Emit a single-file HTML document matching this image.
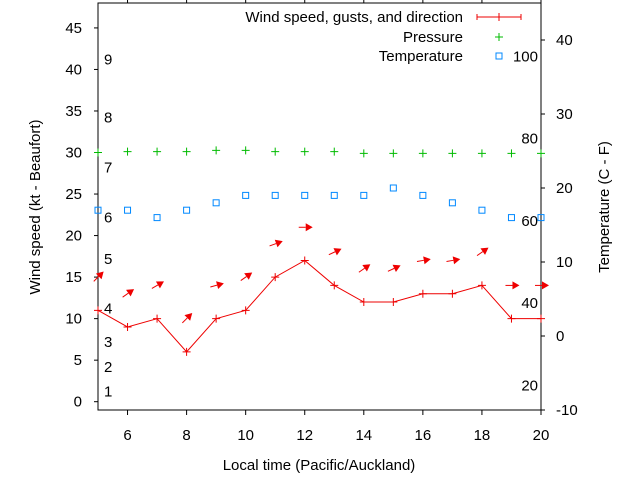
<!DOCTYPE html>
<html><head><meta charset="utf-8"><style>
body{margin:0;background:#fff}
svg{display:block;font-family:"Liberation Sans",sans-serif}
</style></head><body>
<svg id="chart" width="640" height="480" viewBox="0 0 640 480" xmlns="http://www.w3.org/2000/svg">
<rect width="640" height="480" fill="#fff"/>
<g id="axes"></g>
<g id="marks"></g>
<g font-size="15" text-anchor="end" fill="#000">
<text x="463" y="22">Wind speed, gusts, and direction</text>
<line x1="477" y1="17" x2="521" y2="17" stroke="#e00"/>
<line x1="477" y1="14" x2="477" y2="20" stroke="#e00"/><line x1="521" y1="14" x2="521" y2="20" stroke="#e00"/><line x1="499" y1="13" x2="499" y2="21" stroke="#e00"/>
<text x="463" y="42">Pressure</text>
<path d="M495 37h8M499 33v8" stroke="#0b0"/>
<text x="463" y="61">Temperature</text>
<rect x="496" y="53" width="6" height="6" fill="none" stroke="#08f"/>
</g>
<text x="319" y="470" font-size="15" text-anchor="middle">Local time (Pacific/Auckland)</text>
<text transform="translate(40,207) rotate(-90)" font-size="15" text-anchor="middle">Wind speed (kt - Beaufort)</text>
<text transform="translate(609,207) rotate(-90)" font-size="15" text-anchor="middle">Temperature (C - F)</text>
</svg>
<script>
const hours=[5,6,7,8,9,10,11,12,13,14,15,16,17,18,19,20];
const wind=[11,9,10,6,10,11,15,17,14,12,12,13,13,14,10,10];
const gusts=[15,13,14,10,14,15,19,21,18,16,16,17,17,18,14,14];
const dirAngles=[45,35,30,45,15,35,20,0,25,35,25,10,10,35,0,0];
const pressure=[30.0,30.1,30.1,30.1,30.25,30.25,30.1,30.1,30.1,29.9,29.9,29.9,29.9,29.9,29.9,29.9];
const temps=[17,17,16,17,18,19,19,19,19,19,20,19,18,17,16,16];
const xTicks=[6,8,10,12,14,16,18,20];
const yTicks=[0,5,10,15,20,25,30,35,40,45];
const y2Ticks=[-10,0,10,20,30,40];
const beaufortLabels=[["1",1.2],["2",4.2],["3",7.2],["4",11.2],["5",17.2],["6",22.2],["7",28.2],["8",34.2],["9",41.2]];
const fahrenheitLabels=[20,40,60,80,100];

const L=98,R=541,T=3,B=410;
const X=v=>L+(v-5)/(20-5)*(R-L);
const Y=v=>B-(v+1)/(48+1)*(B-T);
const Y2=v=>B-(v+10)/(45+10)*(B-T);
const NS="http://www.w3.org/2000/svg";
function mk(tag,attrs,parent,txt){const e=document.createElementNS(NS,tag);for(const k in attrs)e.setAttribute(k,attrs[k]);if(txt!==undefined)e.textContent=txt;parent.appendChild(e);return e;}
const ax=document.getElementById('axes'),mg=document.getElementById('marks');
let fr=mk('rect',{x:L,y:T,width:R-L,height:B-T,fill:'none',stroke:'#000'},ax);


xTicks.forEach(t=>{const x=X(t);
mk('line',{x1:x,y1:B,x2:x,y2:B+5,stroke:'#000'},ax);
mk('line',{x1:x,y1:T,x2:x,y2:T-3,stroke:'#000'},ax);
const tx=mk('text',{x:x,y:440,'font-size':15,'text-anchor':'middle'},ax,t);

});
yTicks.forEach(t=>{const y=Y(t);
mk('line',{x1:L-4,y1:y,x2:L,y2:y,stroke:'#000'},ax);
const tx=mk('text',{x:82,y:y+5,'font-size':15,'text-anchor':'end'},ax,t);

});
y2Ticks.forEach(t=>{const y=Y2(t);
mk('line',{x1:R,y1:y,x2:R+4,y2:y,stroke:'#000'},ax);
const tx=mk('text',{x:556,y:y+5,'font-size':15},ax,t);

});
beaufortLabels.forEach(b=>{const tx=mk('text',{x:104,y:Y(b[1])+5,'font-size':15},ax,b[0]);

});
fahrenheitLabels.forEach(f=>{const c=(f-32)*5/9;const tx=mk('text',{x:538,y:Y2(c)+5,'font-size':15,'text-anchor':'end'},ax,f);

});
pressure.forEach((p,i)=>{const x=X(hours[i]),y=Y(p);
const e=mk('path',{d:`M${x-4} ${y}h8M${x} ${y-4}v8`,stroke:'#0b0'},mg);

});
temps.forEach((t,i)=>{const x=X(hours[i]),y=Y2(t);
const e=mk('rect',{x:x-3,y:y-3,width:6,height:6,fill:'none',stroke:'#08f'},mg);

});
const pl=mk('polyline',{points:hours.map((h,i)=>X(h)+','+Y(wind[i])).join(' '),fill:'none',stroke:'#e00'},mg);


wind.forEach((w,i)=>{const x=X(hours[i]),y=Y(w);
const e=mk('path',{d:`M${x-4} ${y}h8M${x} ${y-4}v8`,stroke:'#e00'},mg);

});
gusts.forEach((g,i)=>{const x=X(hours[i]),y=Y(g),a=dirAngles[i]*Math.PI/180;
const dx=Math.cos(a),dy=-Math.sin(a);
const x0=x-6*dx,y0=y-6*dy,x1=x+8*dx,y1=y+8*dy;
const bx=x1-7*dx,by=y1-7*dy,px=-dy,py=dx;
const grp=mk('g',{},mg);


mk('line',{x1:x0,y1:y0,x2:bx,y2:by,stroke:'#e00'},grp);
mk('polygon',{points:`${x1},${y1} ${bx+4*px},${by+4*py} ${bx-4*px},${by-4*py}`,fill:'#e00'},grp);});
</script>
</body></html>
